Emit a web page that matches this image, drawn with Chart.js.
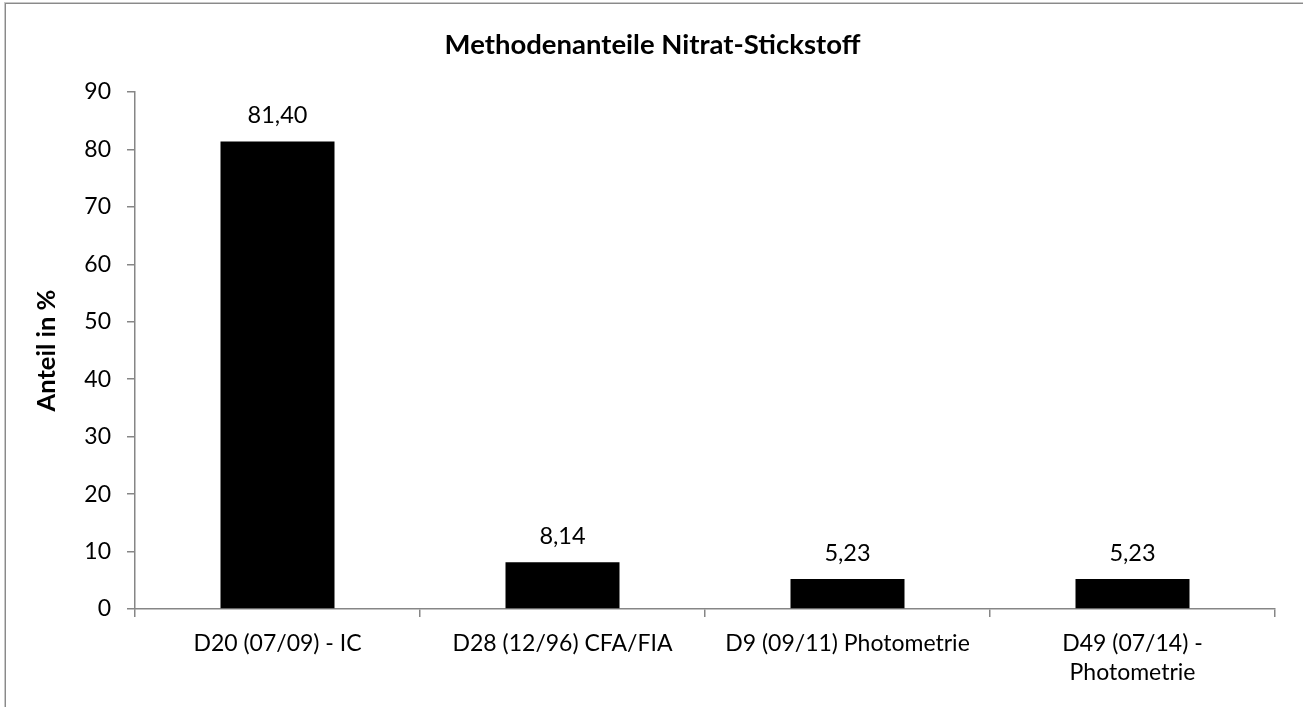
<!DOCTYPE html>
<html>
<head>
<meta charset="utf-8">
<script src="https://cdn.jsdelivr.net/npm/chart.js@4"></script>
<style>
  html, body { margin: 0; padding: 0; background: #fff; width: 1303px; height: 707px; overflow: hidden; }
  #frame { position: absolute; left: 5px; top: 3px; width: 1400px; height: 800px; border: 1px solid #8a8a8a; box-shadow: 0 0 0 1px #c8c8c8; }
  #wrap { position: absolute; left: 0; top: 0; width: 1303px; height: 707px; }
</style>
</head>
<body>
<div id="frame"></div>
<div id="wrap"><canvas id="c" width="1303" height="707"></canvas></div>
<script>
const categories = [
  "D20 (07/09) - IC",
  "D28 (12/96) CFA/FIA",
  "D9 (09/11) Photometrie",
  ["D49 (07/14) -", "Photometrie"]
];
const values = [81.40, 8.14, 5.23, 5.23];
const valueLabels = ["81,40", "8,14", "5,23", "5,23"];
const yTicks = [0, 10, 20, 30, 40, 50, 60, 70, 80, 90];
const chartTitle = "Methodenanteile Nitrat-Stickstoff";
const yTitle = "Anteil in %";

const FONT = "Lato, 'Open Sans', sans-serif";

const valueLabelPlugin = {
  id: 'valueLabels',
  afterDatasetsDraw(chart) {
    const ctx = chart.ctx;
    const meta = chart.getDatasetMeta(0);
    ctx.save();
    ctx.font = "23.5px " + FONT;
    ctx.fillStyle = "#000";
    ctx.textAlign = "center";
    ctx.textBaseline = "middle";
    meta.data.forEach((bar, i) => {
      ctx.fillText(valueLabels[i], bar.x, bar.y - 26);
    });
    ctx.restore();
  }
};

const centeredTitlePlugin = {
  id: 'centeredTitle',
  afterDraw(chart) {
    const ctx = chart.ctx;
    ctx.save();
    ctx.font = "bold 27.5px " + FONT;
    ctx.fillStyle = "#000";
    ctx.textAlign = "center";
    ctx.textBaseline = "middle";
    ctx.fillText(chartTitle, chart.width / 2 + 1, 45);
    ctx.restore();
  }
};

new Chart(document.getElementById('c'), {
  type: 'bar',
  data: {
    labels: categories,
    datasets: [{
      data: values,
      backgroundColor: '#000',
      borderWidth: 0,
      categoryPercentage: 1.0,
      barPercentage: 0.4
    }]
  },
  options: {
    responsive: false,
    animation: false,
    devicePixelRatio: 1,
    layout: { padding: { left: 0, right: 28, top: 92, bottom: 0 } },
    plugins: {
      legend: { display: false },
      tooltip: { enabled: false },
      title: { display: false }
    },
    scales: {
      x: {
        grid: {
          display: true,
          drawOnChartArea: false,
          drawTicks: true,
          tickLength: 8,
          offset: true,
          color: '#868686',
          lineWidth: 1.5
        },
        border: { display: true, color: '#868686', width: 1.5 },
        ticks: {
          color: '#000',
          font: { family: FONT, size: 23, lineHeight: 1.25 },
          padding: 12,
          maxRotation: 0,
          autoSkip: false
        },
        afterFit(scale) { scale.height = 98; }
      },
      y: {
        min: 0,
        max: 90,
        afterBuildTicks(scale) { scale.ticks = yTicks.map(v => ({ value: v })); },
        grid: {
          display: true,
          drawOnChartArea: false,
          drawTicks: true,
          tickLength: 8,
          color: '#868686',
          lineWidth: 1.5
        },
        border: { display: true, color: '#868686', width: 1.5 },
        ticks: {
          color: '#000',
          font: { family: FONT, size: 23 },
          padding: 16
        },
        title: {
          display: true,
          text: yTitle,
          color: '#000',
          font: { family: FONT, size: 25.5, weight: 'bold', lineHeight: 1.2 },
          padding: { top: 31, bottom: 0 }
        },
        afterFit(scale) { scale.width = 135; }
      }
    }
  },
  plugins: [valueLabelPlugin, centeredTitlePlugin]
});
</script>
</body>
</html>
